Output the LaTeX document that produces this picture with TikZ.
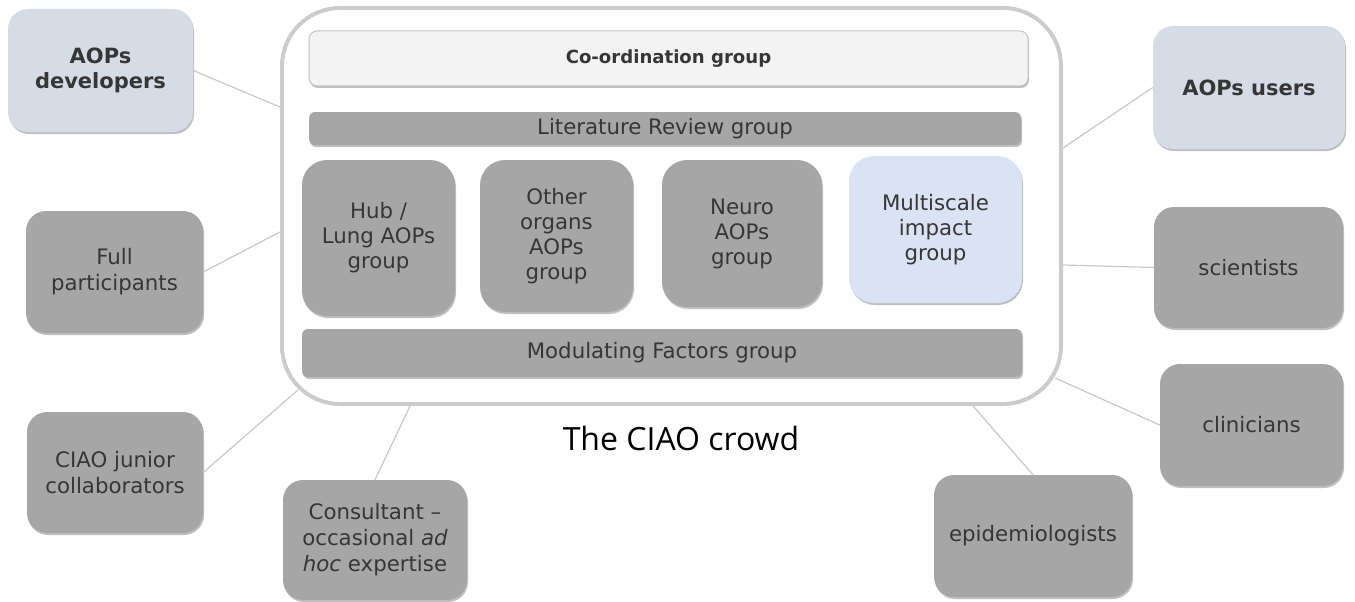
\documentclass[tikz,border=0pt]{standalone}
\usepackage{fontspec}
\setmainfont{DejaVu Sans}
\newfontfamily\captionfont{Open Sans}
\usetikzlibrary{shadows,calc}
\definecolor{boxgray}{HTML}{A6A6A6}
\definecolor{bluegray}{HTML}{D6DCE5}
\definecolor{lightblue}{HTML}{DAE3F3}
\definecolor{coordfill}{HTML}{F3F3F3}
\definecolor{coordline}{HTML}{C4C4C4}
\definecolor{outerline}{HTML}{CCCCCC}
\definecolor{linkcol}{HTML}{C8C8C8}
\definecolor{txt}{HTML}{363636}
\tikzset{
  base/.style={inner sep=0pt, align=center, text=txt,
    drop shadow={shadow xshift=1pt, shadow yshift=-2pt, opacity=0.25, fill=black}},
  actor/.style={base, fill=boxgray, rounded corners=20pt,
    font=\fontsize{21.3}{26}\selectfont},
  keyactor/.style={base, fill=bluegray, rounded corners=20pt,
    font=\fontsize{21}{25}\selectfont\bfseries},
  grp/.style={base, fill=boxgray, rounded corners=25pt,
    font=\fontsize{21.3}{25}\selectfont},
  bar/.style={base, fill=boxgray, rounded corners=6pt,
    font=\fontsize{21.3}{25}\selectfont},
  outer/.style={draw=outerline, line width=4pt, rounded corners=58pt, inner sep=0pt},
  link/.style={draw=linkcol, line width=1.2pt},
}
\begin{document}
\begin{tikzpicture}[x=1pt,y=-1pt]
\useasboundingbox (0,0) rectangle (1355,602);
% outer crowd frame
\node[outer, minimum width=779pt, minimum height=396pt] (crowd) at (671.5,206) {};
% inside
\node[base, fill=coordfill, draw=coordline, line width=1pt, rounded corners=8pt,
  minimum width=719pt, minimum height=55pt, font=\fontsize{18.1}{22}\selectfont\bfseries]
  (coord) at (668.5,58.5) {Co-ordination group};
\node[bar, minimum width=712pt, minimum height=33pt] (lit) at (665,128.5) {Literature Review group};
\node[grp, minimum width=153pt, minimum height=156pt] (hub) at (378.5,238) {Hub /\\Lung AOPs\\group};
\node[grp, minimum width=153pt, minimum height=152pt] (other) at (556.5,236) {Other\\organs\\AOPs\\group};
\node[grp, minimum width=160pt, minimum height=147pt] (neuro) at (742,233.5) {Neuro\\AOPs\\group};
\node[grp, fill=lightblue, minimum width=173pt, minimum height=147pt] (multi) at (935.5,229.5) {Multiscale\\impact\\group};
\node[bar, minimum width=720pt, minimum height=48pt] (mod) at (662,353) {Modulating Factors group};
\node[inner sep=0pt, text=black, font=\captionfont\fontsize{32}{36}\selectfont] (title) at (681,438) {The CIAO crowd};
% outside actors
\node[keyactor, minimum width=185pt, minimum height=123pt] (dev) at (100.5,70.5) {AOPs\\developers};
\node[keyactor, minimum width=192pt, minimum height=123pt] (users) at (1249,87.5) {AOPs users};
\node[actor, minimum width=177pt, minimum height=122pt] (full) at (114.5,272) {Full\\participants};
\node[actor, minimum width=176pt, minimum height=121pt] (junior) at (115,472.5) {CIAO junior\\collaborators};
\node[actor, minimum width=184pt, minimum height=120pt] (cons) at (375,540) {Consultant –\\occasional \textit{ad}\\\textit{hoc} expertise};
\node[actor, minimum width=198pt, minimum height=122pt] (epi) at (1033,536) {epidemiologists};
\node[actor, minimum width=183pt, minimum height=122pt] (clin) at (1251.5,425) {clinicians};
\node[actor, minimum width=189pt, minimum height=121pt] (sci) at (1248.5,267.5) {scientists};
% connectors
\draw[link] (dev.east) -- (crowd.west |- 0,107);
\draw[link] (full.east) -- (crowd.west |- 0,232);
\draw[link] (junior.east) -- ($(crowd.south west)+(18,-16)$);
\draw[link] (cons.north) -- (crowd.south -| 410,0);
\draw[link] (epi.north) -- (crowd.south -| 973,0);
\draw[link] (clin.west) -- ($(crowd.south east)+(-8,-28)$);
\draw[link] (sci.west) -- (crowd.east |- 0,265);
\draw[link] (users.west) -- (crowd.east |- 0,148);
\end{tikzpicture}
\end{document}
